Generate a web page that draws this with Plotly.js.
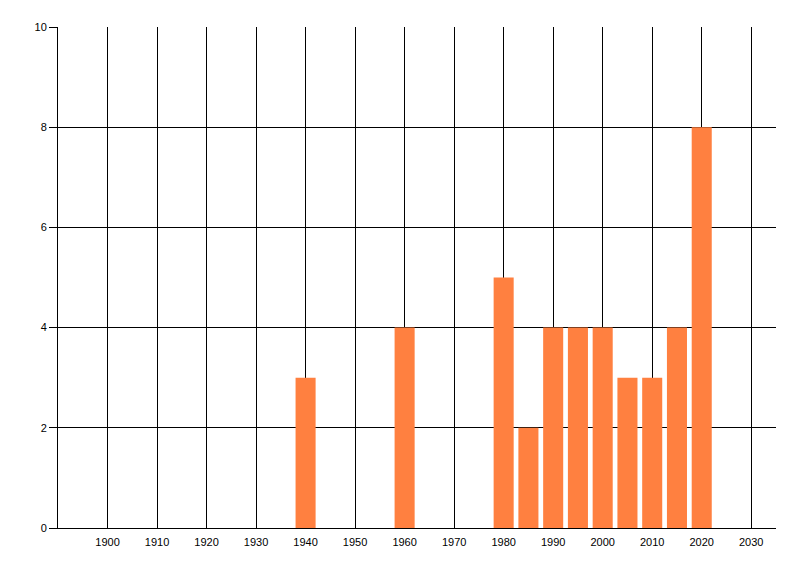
<!DOCTYPE html>
<html>
<head>
<meta charset="utf-8">
<script src="https://cdn.plot.ly/plotly-3.0.1.min.js"></script>
<style>
  html, body { margin: 0; padding: 0; background: #fff; }
  #chart { width: 800px; height: 576px; }
</style>
</head>
<body>
<div id="chart"></div>
<script>
var years = [1940, 1960, 1980, 1985, 1990, 1995, 2000, 2005, 2010, 2015, 2020];
var counts = [3, 4, 5, 2, 4, 4, 4, 3, 3, 4, 8];
var xTicks = [1900, 1910, 1920, 1930, 1940, 1950, 1960, 1970, 1980, 1990, 2000, 2010, 2020, 2030];
var yTicks = [0, 2, 4, 6, 8, 10];

var trace = {
  x: years,
  y: counts,
  type: 'bar',
  width: 4.05,
  marker: { color: '#ff8040', line: { width: 0 } },
  hoverinfo: 'x+y'
};

var layout = {
  width: 800,
  height: 576,
  margin: { l: 58, r: 24, t: 27, b: 48 },
  paper_bgcolor: '#fff',
  plot_bgcolor: '#fff',
  font: { family: 'Liberation Sans, Arial, sans-serif', size: 11, color: '#000' },
  showlegend: false,
  xaxis: {
    range: [1890, 2035],
    tickvals: xTicks,
    ticktext: xTicks.map(String),
    showgrid: true,
    gridcolor: '#000',
    gridwidth: 1,
    showline: true,
    linecolor: '#000',
    linewidth: 1,
    zeroline: false,
    ticks: '',
    ticklabelstandoff: 4
  },
  yaxis: {
    range: [0, 10],
    tickvals: yTicks,
    showgrid: true,
    gridcolor: '#000',
    gridwidth: 1,
    showline: true,
    linecolor: '#000',
    linewidth: 1,
    zeroline: false,
    ticks: 'outside',
    ticklen: 8,
    tickcolor: '#000',
    tickwidth: 1
  }
};

Plotly.newPlot('chart', [trace], layout, { displayModeBar: false, staticPlot: true });
</script>
</body>
</html>
